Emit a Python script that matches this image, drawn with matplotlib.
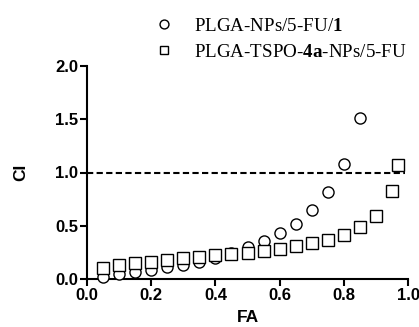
import matplotlib
matplotlib.use("Agg")
import matplotlib.pyplot as plt

plt.rcParams['mathtext.fontset'] = 'custom'
plt.rcParams['mathtext.rm'] = 'Liberation Serif'
plt.rcParams['mathtext.bf'] = 'Liberation Serif:bold'

fa_np = [0.05, 0.10, 0.15, 0.20, 0.25, 0.30, 0.35, 0.40, 0.45, 0.50, 0.55, 0.60,
         0.65, 0.70, 0.75, 0.80, 0.85]
ci_np = [0.02, 0.044, 0.063, 0.084, 0.11, 0.13, 0.16, 0.20, 0.24, 0.30, 0.36, 0.43,
         0.52, 0.65, 0.82, 1.08, 1.51]

fa_tspo = [0.05, 0.10, 0.15, 0.20, 0.25, 0.30, 0.35, 0.40, 0.45, 0.50, 0.55, 0.60,
           0.65, 0.70, 0.75, 0.80, 0.85, 0.90, 0.95, 0.97]
ci_tspo = [0.106, 0.128, 0.147, 0.163, 0.178, 0.194, 0.21, 0.228, 0.235, 0.24, 0.26, 0.285,
           0.31, 0.335, 0.37, 0.41, 0.485, 0.59, 0.825, 1.07]

label_np = r"PLGA-NPs/5-FU/$\mathbf{1}$"
label_tspo = r"PLGA-TSPO-$\mathbf{4a}$-NPs/5-FU"
xticks = [0.0, 0.2, 0.4, 0.6, 0.8, 1.0]
yticks = [0.0, 0.5, 1.0, 1.5, 2.0]

fig = plt.figure(figsize=(4.19, 3.27), dpi=100)
ax = fig.add_axes([87/419, 48/327, (408-87)/419, (279-66)/327])

ax.plot(fa_np, ci_np, linestyle='none', marker='o', markersize=8, markerfacecolor='white',
        markeredgecolor='black', markeredgewidth=1.0, label=label_np, clip_on=False, zorder=3)
ax.plot(fa_tspo, ci_tspo, linestyle='none', marker='s', markersize=8, markerfacecolor='white',
        markeredgecolor='black', markeredgewidth=1.0, label=label_tspo, clip_on=False, zorder=3)
ax.plot([0, 0.99], [1.0, 1.0], linestyle=(0, (3, 1.6)), color='black', linewidth=1.5, zorder=2)

ax.set_xlim(0, 1.0)
ax.set_ylim(0, 2.0)
ax.set_xticks(xticks)
ax.set_yticks(yticks)
ax.set_xticklabels([f"{t:.1f}" for t in xticks])
ax.set_yticklabels([f"{t:.1f}" for t in yticks])
for s in ['top', 'right']:
    ax.spines[s].set_visible(False)
for s in ['left', 'bottom']:
    ax.spines[s].set_linewidth(1.5)
ax.tick_params(axis='both', width=1.5, length=5, labelsize=12, pad=1.5)
for lab in ax.get_xticklabels() + ax.get_yticklabels():
    lab.set_fontfamily('Liberation Sans')
    lab.set_fontweight('bold')
ax.set_xlabel('FA', fontfamily='Liberation Sans', fontweight='bold', fontsize=12.5, labelpad=5)
ax.set_ylabel('CI', fontfamily='Liberation Sans', fontweight='bold', fontsize=12.5, labelpad=19)

leg = fig.legend(loc='upper left', bbox_to_anchor=(145/419, 1 - 8/327), frameon=False,
                 prop={'family': 'Liberation Serif', 'size': 13.7}, handletextpad=1.1,
                 labelspacing=0.45, borderpad=0, handlelength=1.0, markerscale=0.8)

fig.savefig('out.png', dpi=100)
